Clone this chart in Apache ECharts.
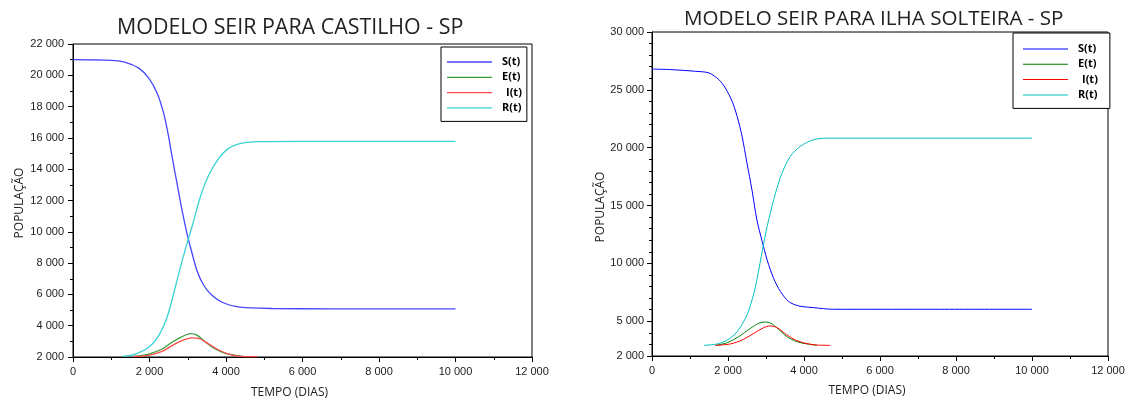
<!DOCTYPE html>
<html>
<head>
<meta charset="UTF-8">
<title>Modelo SEIR</title>
<style type="text/css">
	body{margin:0;padding:0;background:#fff;}
	#chart{width:1134px;height:401px;}
</style>
</head>
<body>
<div id="chart"></div>
<script src="https://cdn.jsdelivr.net/npm/echarts@6/dist/echarts.min.js"></script>
<script>
// Castilho - SP
var casSx = [0, 1000, 1370, 1720, 1980, 2200, 2370, 2500, 2590, 2720, 2850, 2980, 3070, 3240, 3420, 3640, 3900, 4250, 4500, 5200, 6770, 10000];
var casS  = [21000, 20950, 20830, 20460, 19820, 18860, 17580, 16080, 14800, 13090, 11380, 9890, 9030, 7530, 6570, 5930, 5500, 5230, 5160, 5100, 5080, 5080];
var casEx = [1590, 1980, 2330, 2590, 2850, 3070, 3240, 3460, 3720, 3980, 4250, 4500];
var casE  = [2040, 2190, 2510, 2940, 3300, 3500, 3400, 2960, 2510, 2235, 2110, 2020];
var casIx = [1590, 1980, 2330, 2590, 2850, 3110, 3330, 3550, 3810, 4070, 4330, 4830];
var casI  = [2040, 2110, 2360, 2730, 3050, 3220, 3150, 2830, 2450, 2190, 2060, 2020];
var casRx = [1290, 1630, 1980, 2240, 2460, 2630, 2810, 2980, 3160, 3330, 3550, 3810, 4070, 4420, 4850, 6000, 10000];
var casR  = [2040, 2190, 2620, 3370, 4540, 6040, 7750, 9240, 10740, 12240, 13630, 14690, 15330, 15660, 15760, 15780, 15780];

// Ilha Solteira - SP
var ilhSx = [0, 530, 1150, 1500, 1760, 1930, 2110, 2240, 2370, 2500, 2630, 2760, 2900, 3030, 3200, 3380, 3600, 3860, 4250, 4780, 6790, 10000];
var ilhS  = [26800, 26745, 26600, 26460, 25880, 25160, 24000, 22710, 20980, 18670, 16360, 13770, 11890, 10300, 8720, 7570, 6700, 6330, 6180, 6040, 6040, 6040];
var ilhEx = [1670, 1980, 2280, 2590, 2810, 2980, 3160, 3330, 3550, 3810, 4080, 4340];
var ilhE  = [2920, 3150, 3670, 4390, 4830, 4940, 4770, 4310, 3670, 3240, 3040, 2920];
var ilhIx = [1670, 2060, 2370, 2680, 2940, 3100, 3290, 3550, 3810, 4080, 4340, 4690];
var ilhI  = [2920, 3040, 3380, 3960, 4450, 4600, 4450, 3820, 3330, 3070, 2950, 2920];
var ilhRx = [1365, 1715, 1980, 2240, 2500, 2680, 2810, 2940, 3070, 3250, 3420, 3640, 3900, 4250, 4650, 6000, 10000];
var ilhR  = [2920, 3040, 3380, 4100, 5550, 7420, 9440, 11750, 13770, 16070, 17800, 19250, 20110, 20690, 20830, 20830, 20830];

var ilhYLabels = [2000, 5000, 10000, 15000, 20000, 25000, 30000];
var names = ['S(t)', 'E(t)', 'I(t)', 'R(t)'];

function pair(xs, ys) {
	return xs.map(function (x, i) { return [x, ys[i]]; });
}
function fmt(v) {
	return String(v).replace(/\B(?=(\d{3})+(?!\d))/g, ' ');
}

var labelStyle = {color: '#222', fontSize: 11, fontFamily: 'Liberation Sans', formatter: fmt};
var nameStyle = {color: '#222', fontSize: 12, fontFamily: 'Open Sans'};
var lineBlack = {show: true, lineStyle: {color: '#000', width: 1}};

function xAx(gi, gap) {
	return {
		type: 'value', gridIndex: gi, min: 0, max: 12000, interval: 2000,
		name: 'TEMPO (DIAS)', nameLocation: 'middle', nameGap: gap,
		nameTextStyle: Object.assign({padding: [0, 26, 0, 0]}, nameStyle),
		axisLine: lineBlack, axisTick: {show: true, length: 5, lineStyle: {color: '#000'}},
		minorTick: {show: true, splitNumber: 2, length: 3, lineStyle: {color: '#000'}},
		axisLabel: Object.assign({margin: 9}, labelStyle),
		splitLine: {show: false}
	};
}

// legend text is pushed right so the labels end on the same edge
function legendFor(left, top, lw, pad, colors) {
	var txt = {fontWeight: 'bold', fontSize: 11, fontFamily: 'Open Sans', color: '#000'};
	return {
		orient: 'vertical', left: left, top: top,
		data: names.map(function (n, i) { return {name: n, itemStyle: {color: colors[i]}}; }),
		icon: 'rect', itemWidth: 45, itemHeight: lw, itemGap: 4.3,
		backgroundColor: '#fff', borderColor: '#000', borderWidth: 1,
		padding: pad,
		formatter: function (n) { return n === 'I(t)' ? '{b|' + n + '}' : '{a|' + n + '}'; },
		textStyle: Object.assign({
			rich: {
				a: Object.assign({padding: [0, 0, 0, 5]}, txt),
				b: Object.assign({padding: [0, 0, 0, 9]}, txt)
			}
		}, txt)
	};
}

function ser(name, gi, data, color, w) {
	return {
		name: name, type: 'line', xAxisIndex: gi, yAxisIndex: gi, data: data,
		symbol: 'none', smooth: 0.3,
		lineStyle: {color: color, width: w}, itemStyle: {color: color}
	};
}

var casColors = ['#4646ff', '#3a9e3a', '#ff4b4b', '#3ad2d2'];
var ilhColors = ['#0000ff', '#008000', '#ff0000', '#00bfbf'];

var chart = echarts.init(document.getElementById('chart'));
chart.setOption({
	animation: false,
	title: [
		{text: 'MODELO SEIR PARA CASTILHO - SP', left: 112, top: 12, textStyle: {fontSize: 21.4, fontWeight: 'normal', color: '#222', fontFamily: 'Open Sans'}},
		{text: 'MODELO SEIR PARA ILHA SOLTEIRA - SP', left: 679, top: 4, textStyle: {fontSize: 20.6, fontWeight: 'normal', color: '#222', fontFamily: 'Open Sans'}}
	],
	legend: [
		legendFor(441, 47, 1.3, [9.5, 5, 8, 6], casColors),
		legendFor(1013, 33, 1, [10.5, 12, 8, 10], ilhColors)
	],
	grid: [
		{left: 73, right: 602, top: 44, bottom: 44, outerBoundsMode: 'none', show: true, borderColor: '#000', borderWidth: 1},
		{left: 652, right: 26, top: 32, bottom: 45, outerBoundsMode: 'none', show: true, borderColor: '#000', borderWidth: 1}
	],
	xAxis: [xAx(0, 30), xAx(1, 29)],
	yAxis: [
		{
			type: 'value', gridIndex: 0, min: 2000, max: 22000, interval: 2000,
			name: 'POPULAÇÃO', nameLocation: 'middle', nameGap: 47,
			nameTextStyle: Object.assign({padding: [0, 5, 0, 0]}, nameStyle),
			axisLine: lineBlack, axisTick: {show: true, length: 5, lineStyle: {color: '#000'}},
			minorTick: {show: true, splitNumber: 2, length: 3, lineStyle: {color: '#000'}},
			axisLabel: Object.assign({margin: 9}, labelStyle),
			splitLine: {show: false}
		},
		{
			type: 'value', gridIndex: 1, min: 2000, max: 30000, interval: 1000,
			name: 'POPULAÇÃO', nameLocation: 'middle', nameGap: 45,
			nameTextStyle: Object.assign({padding: [0, 26, 0, 0]}, nameStyle),
			axisLine: lineBlack,
			axisTick: {show: true, length: 5, customValues: ilhYLabels, lineStyle: {color: '#000'}},
			axisLabel: Object.assign({margin: 8, customValues: ilhYLabels}, labelStyle),
			splitLine: {show: false}
		},
		{
			// minor ticks every 1 000
			type: 'value', gridIndex: 1, min: 2000, max: 30000, interval: 1000, position: 'left',
			axisLine: {show: false}, axisTick: {show: true, length: 3, lineStyle: {color: '#000'}},
			axisLabel: {show: false}, splitLine: {show: false}
		}
	],
	series: [
		ser('S(t)', 0, pair(casSx, casS), casColors[0], 1.3),
		ser('E(t)', 0, pair(casEx, casE), casColors[1], 1.3),
		ser('I(t)', 0, pair(casIx, casI), casColors[2], 1.3),
		ser('R(t)', 0, pair(casRx, casR), casColors[3], 1.3),
		ser('S(t)', 1, pair(ilhSx, ilhS), ilhColors[0], 1),
		ser('E(t)', 1, pair(ilhEx, ilhE), ilhColors[1], 1),
		ser('I(t)', 1, pair(ilhIx, ilhI), ilhColors[2], 1),
		ser('R(t)', 1, pair(ilhRx, ilhR), ilhColors[3], 1)
	]
});
</script>
</body>
</html>
